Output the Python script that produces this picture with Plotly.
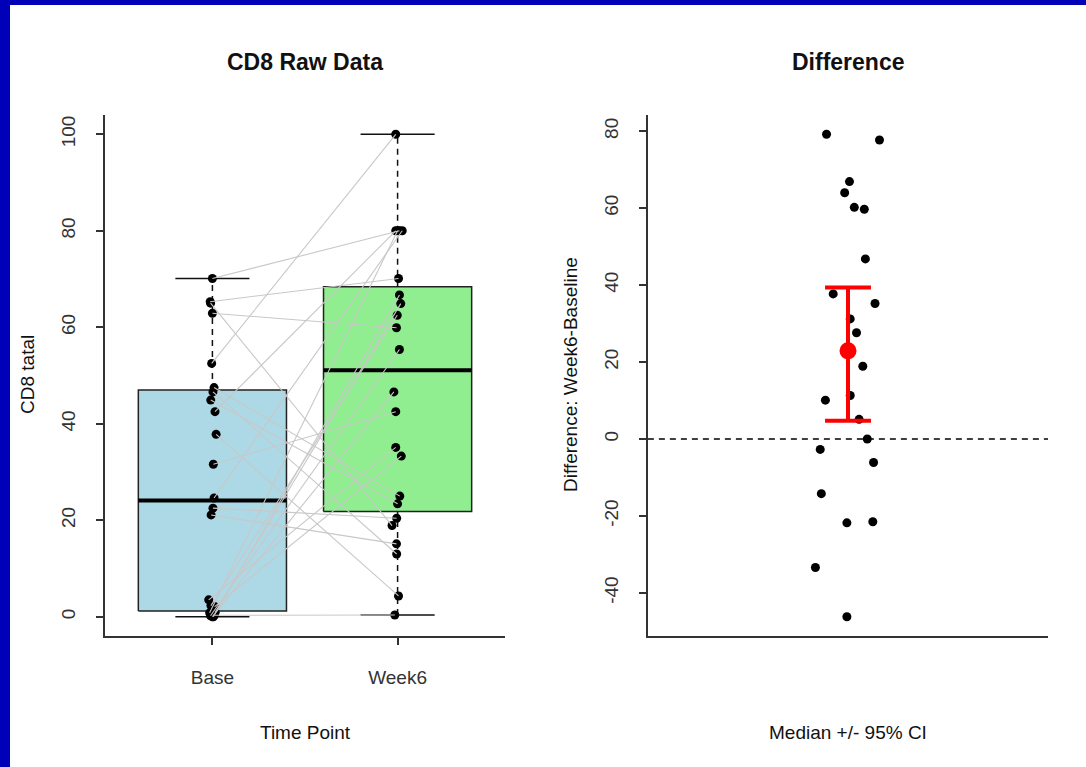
import plotly.graph_objects as go

W, H = 1086, 767
FONT = "Arial, Liberation Sans, sans-serif"

# ---- paired CD8 counts (one entry per subject) ----
groups = ["Base", "Week6"]
base = [70.1, 65.3, 65.0, 62.9, 52.5, 47.5, 46.6, 44.9, 42.5, 37.8, 31.6, 24.6,
        22.5, 21.1, 0.3, 0.8, 0.0, 0.9, 2.3, 0.2, 0.0, 3.5, 2.1]
week6 = [80.0, 70.1, 18.9, 59.9, 100.0, 25.0, 13.0, 23.4, 80.0, 4.3, 42.5, 80.0,
         20.4, 15.1, 0.35, 80.0, 66.7, 64.9, 62.5, 55.4, 46.6, 35.1, 33.3]
# horizontal jitter of the strip points
base_jit = [0.0, -0.012, -0.01, 0.0, -0.004, 0.009, 0.003, -0.009, 0.014, 0.02, 0.005, 0.009,
            0.003, -0.007, 0.01, -0.015, 0.005, 0.015, -0.008, -0.01, 0.0, -0.02, 0.012]
week6_jit = [0.01, 0.005, -0.03, -0.006, -0.01, 0.012, -0.005, 0.0, -0.01, 0.005, -0.01, 0.025,
             -0.005, -0.006, -0.015, 0.0, 0.01, 0.017, -0.002, 0.01, -0.02, -0.01, 0.02]

# boxplot statistics per group
box_low = [0.0, 0.35]
box_q1 = [1.2, 21.8]
box_med = [24.1, 51.1]
box_q3 = [47.0, 68.4]
box_high = [70.1, 100.0]
box_fill = ["#ADD8E6", "#90EE90"]

left_ticks = [0, 20, 40, 60, 80, 100]

# ---- Week6 - Baseline differences ----
diff_vals = [79.2, 77.7, 66.9, 64.0, 60.2, 59.7, 46.8, 37.7, 35.2, 31.2, 27.6, 18.9,
             11.3, 10.1, 5.1, 0.0, -2.7, -6.1, -14.2, -21.8, -21.5, -33.4, -46.2]
diff_jit = [0.942, 1.085, 1.004, 0.991, 1.017, 1.044, 1.047, 0.960, 1.073, 1.006, 1.023, 1.040,
            1.006, 0.939, 1.030, 1.052, 0.925, 1.069, 0.928, 0.997, 1.067, 0.912, 0.997]
diff_est = 22.9
diff_ci = [4.75, 39.4]

right_ticks = [-40, -20, 0, 20, 40, 60, 80]

fig = go.Figure()

# ---- left panel: boxes ----
half = 0.4
for i, g in enumerate(groups):
    xc = i + 1
    fig.add_trace(go.Scatter(
        x=[xc - half, xc + half, xc + half, xc - half, xc - half],
        y=[box_q1[i], box_q1[i], box_q3[i], box_q3[i], box_q1[i]],
        mode="lines", fill="toself", fillcolor=box_fill[i],
        line=dict(color="#222", width=1.5), hoverinfo="skip",
        xaxis="x", yaxis="y"))
    # dashed whiskers
    fig.add_trace(go.Scatter(
        x=[xc, xc, None, xc, xc],
        y=[box_low[i], box_q1[i], None, box_q3[i], box_high[i]],
        mode="lines", line=dict(color="#111", width=1.5, dash="6px,5px"),
        hoverinfo="skip", xaxis="x", yaxis="y"))
    # whisker caps
    fig.add_trace(go.Scatter(
        x=[xc - half / 2, xc + half / 2, None, xc - half / 2, xc + half / 2],
        y=[box_low[i], box_low[i], None, box_high[i], box_high[i]],
        mode="lines", line=dict(color="#111", width=1.5),
        hoverinfo="skip", xaxis="x", yaxis="y"))
    # median
    fig.add_trace(go.Scatter(
        x=[xc - half, xc + half], y=[box_med[i], box_med[i]],
        mode="lines", line=dict(color="#000", width=4),
        hoverinfo="skip", xaxis="x", yaxis="y"))

# strip points
fig.add_trace(go.Scatter(
    x=[1 + j for j in base_jit] + [2 + j for j in week6_jit],
    y=base + week6, mode="markers",
    marker=dict(color="#000", size=9), hoverinfo="skip", xaxis="x", yaxis="y"))

# subject lines
lx, ly = [], []
for b, w, jb, jw in zip(base, week6, base_jit, week6_jit):
    lx += [1 + jb, 2 + jw, None]
    ly += [b, w, None]
fig.add_trace(go.Scatter(
    x=lx, y=ly, mode="lines", line=dict(color="#C8C8C8", width=1.1),
    hoverinfo="skip", xaxis="x", yaxis="y"))

# ---- right panel ----
fig.add_trace(go.Scatter(
    x=[0.43, 1.54], y=[0, 0], mode="lines", cliponaxis=False,
    line=dict(color="#000", width=1.5, dash="6px,5px"),
    hoverinfo="skip", xaxis="x2", yaxis="y2"))
fig.add_trace(go.Scatter(
    x=diff_jit, y=diff_vals, mode="markers",
    marker=dict(color="#000", size=9), hoverinfo="skip", xaxis="x2", yaxis="y2"))
cap = 0.062
fig.add_trace(go.Scatter(
    x=[1, 1, None, 1 - cap, 1 + cap, None, 1 - cap, 1 + cap],
    y=[diff_ci[0], diff_ci[1], None, diff_ci[0], diff_ci[0], None, diff_ci[1], diff_ci[1]],
    mode="lines", line=dict(color="#FF0000", width=4),
    hoverinfo="skip", xaxis="x2", yaxis="y2"))
fig.add_trace(go.Scatter(
    x=[1], y=[diff_est], mode="markers",
    marker=dict(color="#FF0000", size=17), hoverinfo="skip", xaxis="x2", yaxis="y2"))

# ---- axes ----
ydom = [1 - 636 / H, 1 - 115 / H]
line_style = dict(showgrid=False, zeroline=False, showline=True, linecolor="#333",
                  linewidth=1.5)
tick_style = dict(ticks="outside", ticklen=7, tickwidth=1.5, tickcolor="#333",
                  tickfont=dict(family=FONT, size=19, color="#333"))
fig.update_layout(
    width=W, height=H, margin=dict(l=0, r=0, t=0, b=0),
    paper_bgcolor="white", plot_bgcolor="white", showlegend=False,
    xaxis=dict(domain=[105 / W, 505 / W], range=[0.42, 2.58],
               tickvals=[1, 2], ticktext=groups, ticklabelstandoff=16,
               **line_style, **tick_style),
    yaxis=dict(domain=ydom, range=[-4, 104], tickvals=left_ticks,
               ticktext=[str(t) for t in left_ticks],
               tickangle=-90, ticklabelstandoff=14, **line_style, **tick_style),
    xaxis2=dict(domain=[648 / W, 1048 / W], range=[0.46, 1.54], anchor="y2",
                showticklabels=False, ticks="", **line_style),
    yaxis2=dict(domain=ydom, range=[-51.2, 84.2], anchor="x2",
                tickvals=right_ticks, ticktext=[str(t) for t in right_ticks],
                tickangle=-90, ticklabelstandoff=14, **line_style, **tick_style),
)

# titles and axis labels
ann = [
    dict(text="<b>CD8 Raw Data</b>", x=305, y=62, size=23, angle=0),
    dict(text="<b>Difference</b>", x=848, y=62, size=23, angle=0),
    dict(text="Time Point", x=305, y=732, size=19, angle=0),
    dict(text="Median +/- 95% CI", x=848, y=732, size=19, angle=0),
    dict(text="CD8 tatal", x=27, y=375, size=19, angle=-90),
    dict(text="Difference: Week6-Baseline", x=570, y=375, size=19, angle=-90),
]
for a in ann:
    fig.add_annotation(text=a["text"], x=a["x"] / W, y=1 - a["y"] / H,
                       xref="paper", yref="paper", showarrow=False,
                       xanchor="center", yanchor="middle", textangle=a["angle"],
                       font=dict(family=FONT, size=a["size"], color="#111"))

# blue frame on the top and left edges
fig.add_shape(type="rect", xref="paper", yref="paper", x0=0, x1=10 / W, y0=0, y1=1,
              fillcolor="#0000B8", line_width=0, layer="above")
fig.add_shape(type="rect", xref="paper", yref="paper", x0=0, x1=1, y0=1 - 5 / H, y1=1,
              fillcolor="#0000B8", line_width=0, layer="above")

fig.write_html("out.html")
